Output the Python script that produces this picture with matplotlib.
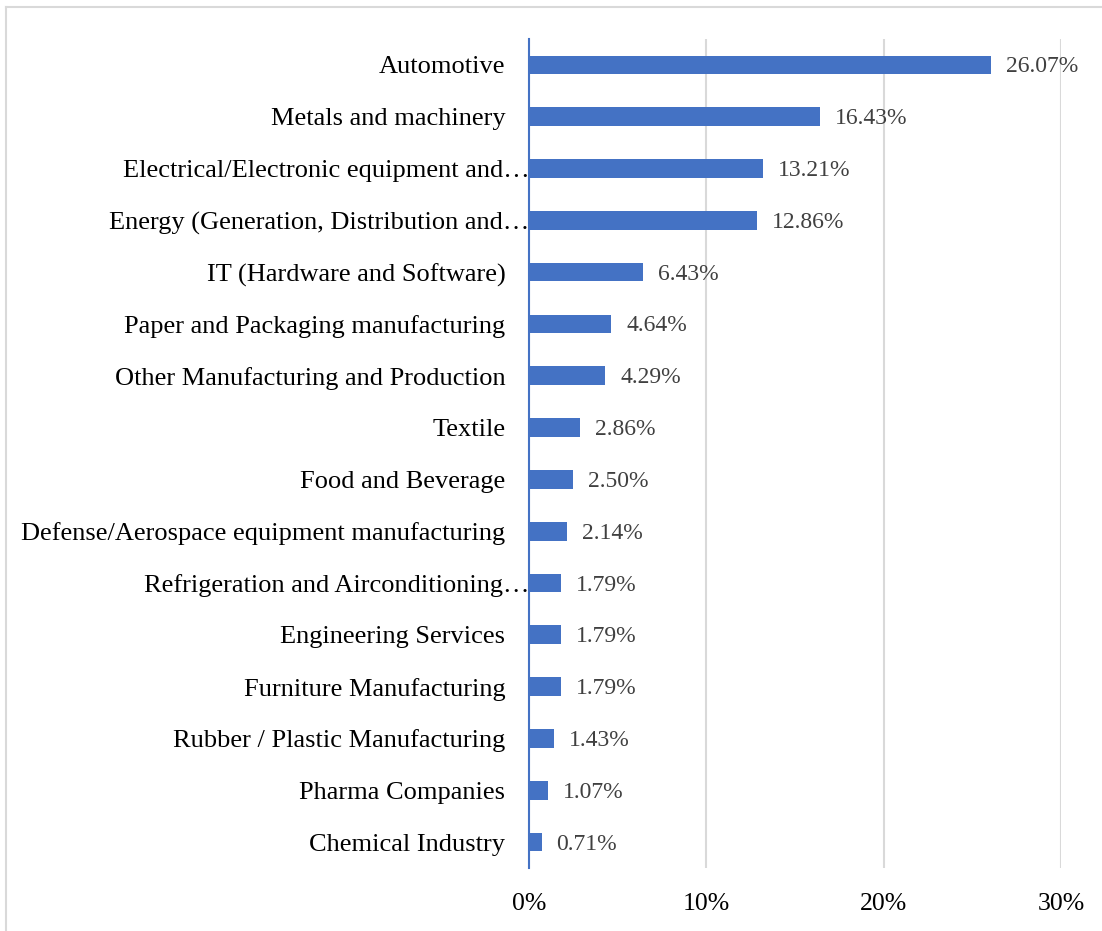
import matplotlib.pyplot as plt
from matplotlib.lines import Line2D
from matplotlib.transforms import ScaledTranslation

plt.rcParams['font.family'] = ['Liberation Serif', 'DejaVu Serif']

# sectors, largest first (drawn top to bottom)
sectors = [
    'Automotive',
    'Metals and machinery',
    'Electrical/Electronic equipment and…',
    'Energy (Generation, Distribution and…',
    'IT (Hardware and Software)',
    'Paper and Packaging manufacturing',
    'Other Manufacturing and Production',
    'Textile',
    'Food and Beverage',
    'Defense/Aerospace equipment manufacturing',
    'Refrigeration and Airconditioning…',
    'Engineering Services',
    'Furniture Manufacturing',
    'Rubber / Plastic Manufacturing',
    'Pharma Companies',
    'Chemical Industry',
]
shares = [26.07, 16.43, 13.21, 12.86, 6.43, 4.64, 4.29, 2.86,
          2.50, 2.14, 1.79, 1.79, 1.79, 1.43, 1.07, 0.71]
x_ticks = [0, 10, 20, 30]

bar_color = '#4472C4'
grid_color = '#D9D9D9'

fig = plt.figure(figsize=(11.02, 9.31), dpi=100)
ax = fig.add_axes([0.480, 0.0677, 0.4828, 0.8904])

pos = list(range(len(sectors)))
ax.barh(pos, shares, height=0.36, color=bar_color, zorder=3)

for y, v in zip(pos, shares):
    ax.annotate(f'{v:.2f}%', (v, y), xytext=(15, -2), textcoords='offset pixels',
                va='center', ha='left', fontsize=17, color='#404040')

ax.set_ylim(len(sectors) - 0.5, -0.5)
ax.set_xlim(0, 30)
ax.set_xticks(x_ticks)
ax.set_xticklabels([f'{t}%' for t in x_ticks], fontsize=18.5)
ax.set_yticks(pos)
ax.set_yticklabels(sectors, fontsize=19)

ax.tick_params(axis='x', length=0, pad=18)
ax.tick_params(axis='y', length=0, pad=17)
ax.grid(axis='x', color=grid_color, linewidth=1.5, zorder=0)
ax.grid(axis='y', visible=False)

for side in ['top', 'right', 'bottom']:
    ax.spines[side].set_visible(False)
ax.spines['left'].set_color(bar_color)
ax.spines['left'].set_linewidth(1.5)
ax.spines['left'].set_zorder(4)

# truncated labels run up to the axis line
shift = ScaledTranslation(0.24, 0, fig.dpi_scale_trans)
for lbl in ax.get_yticklabels():
    if lbl.get_text().endswith('…'):
        lbl.set_transform(lbl.get_transform() + shift)

# chart area frame (only top and left edges fall inside the image)
fig.add_artist(Line2D([0.0055, 0.0055], [0, 1 - 7 / 931], color=grid_color,
                      linewidth=1.5, transform=fig.transFigure))
fig.add_artist(Line2D([0.0055, 1], [1 - 7 / 931, 1 - 7 / 931], color=grid_color,
                      linewidth=1.5, transform=fig.transFigure))

fig.savefig('out.png', dpi=100)
